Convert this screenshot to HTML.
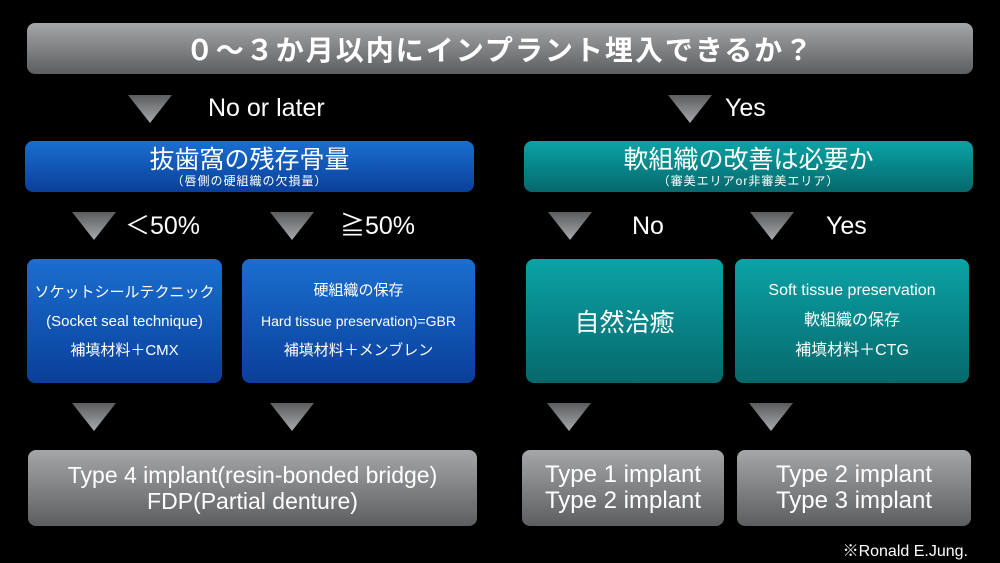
<!DOCTYPE html>
<html><head><meta charset="utf-8"><style>
body{margin:0;width:1000px;height:563px;background:#000;position:relative;overflow:hidden;font-family:"Liberation Sans","Noto Sans CJK JP",sans-serif;color:#fff}
.b{position:absolute;border-radius:8px;display:flex;flex-direction:column;align-items:center;justify-content:center;text-align:center;box-sizing:border-box}
.g{background:linear-gradient(#a4a6a8,#5c5e60)}
.bl{background:linear-gradient(#1a6fd0,#0a3f9a)}
.tl{background:linear-gradient(#0aa3a6,#06686c)}
.t{position:absolute;width:44px;height:28px;clip-path:polygon(0 0,100% 0,50% 100%);background:linear-gradient(#5a5c5e,#a8aaac)}
.l{position:absolute;font-size:25px;line-height:28px}
</style></head><body>
<div class="b g" style="left:27px;top:23px;width:946px;height:51px;font-size:28px;font-weight:bold;letter-spacing:2px">０～３か月以内にインプラント埋入できるか？</div>

<div class="t" style="left:128px;top:95px"></div><div class="l" style="left:208px;top:94px">No or later</div>
<div class="t" style="left:668px;top:95px"></div><div class="l" style="left:725px;top:94px">Yes</div>

<div class="b bl" style="left:25px;top:141px;width:449px;height:51px"><div style="font-size:25px;line-height:28px">抜歯窩の残存骨量</div><div style="font-size:12px;line-height:14px;letter-spacing:1px">（唇側の硬組織の欠損量）</div></div>
<div class="b tl" style="left:524px;top:141px;width:449px;height:51px"><div style="font-size:25px;line-height:28px">軟組織の改善は必要か</div><div style="font-size:12px;line-height:14px;letter-spacing:1px">（審美エリアor非審美エリア）</div></div>

<div class="t" style="left:72px;top:212px"></div><div class="l" style="left:125px;top:212px">＜50%</div>
<div class="t" style="left:270px;top:212px"></div><div class="l" style="left:340px;top:212px">≧50%</div>
<div class="t" style="left:548px;top:212px"></div><div class="l" style="left:632px;top:212px">No</div>
<div class="t" style="left:750px;top:212px"></div><div class="l" style="left:826px;top:212px">Yes</div>

<div class="b bl" style="left:27px;top:259px;width:195px;height:124px;font-size:15px;line-height:29px"><div>ソケットシールテクニック</div><div>(Socket seal technique)</div><div>補填材料＋CMX</div></div>
<div class="b bl" style="left:242px;top:259px;width:233px;height:124px;font-size:15px;line-height:30px"><div>硬組織の保存</div><div style="font-size:14px">Hard tissue preservation)=GBR</div><div>補填材料＋メンブレン</div></div>
<div class="b tl" style="left:526px;top:259px;width:197px;height:124px;font-size:25px">自然治癒</div>
<div class="b tl" style="left:735px;top:259px;width:234px;height:124px;font-size:16px;line-height:30px"><div>Soft tissue preservation</div><div>軟組織の保存</div><div>補填材料＋CTG</div></div>

<div class="t" style="left:72px;top:403px"></div>
<div class="t" style="left:270px;top:403px"></div>
<div class="t" style="left:547px;top:403px"></div>
<div class="t" style="left:749px;top:403px"></div>

<div class="b g" style="left:28px;top:450px;width:449px;height:76px;font-size:23px;line-height:26px"><div>Type 4 implant(resin-bonded bridge)</div><div>FDP(Partial denture)</div></div>
<div class="b g" style="left:522px;top:450px;width:202px;height:76px;font-size:24px;line-height:26px"><div>Type 1 implant</div><div>Type 2 implant</div></div>
<div class="b g" style="left:737px;top:450px;width:234px;height:76px;font-size:24px;line-height:26px"><div>Type 2 implant</div><div>Type 3 implant</div></div>

<div style="position:absolute;right:32px;top:537px;font-size:16px">※Ronald E.Jung.</div>
</body></html>
